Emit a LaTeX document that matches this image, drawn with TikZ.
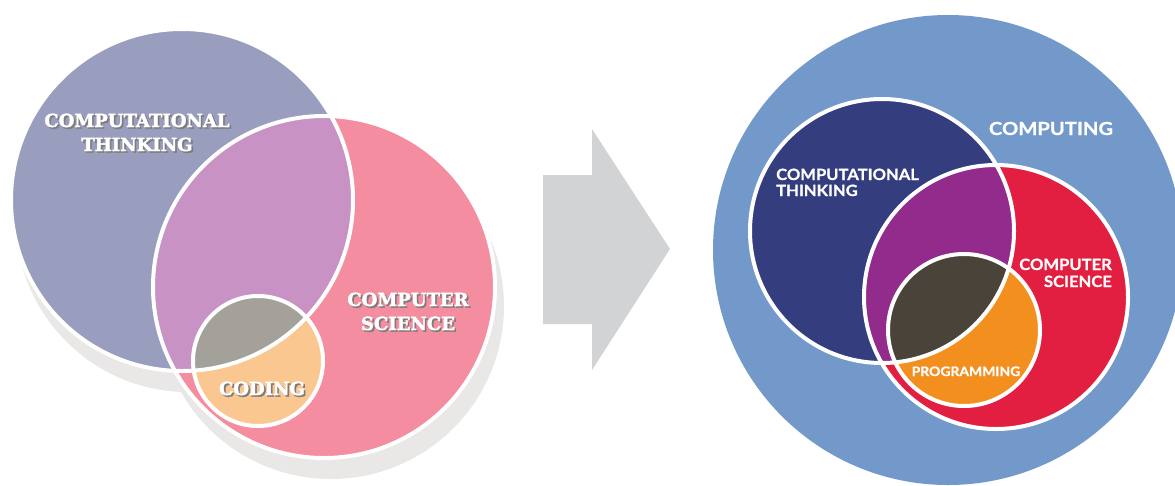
\documentclass[tikz,border=0pt]{standalone}
\usepackage{fontspec}
\newfontfamily\slabfont{DejaVu Serif Bold}[FakeBold=2.2]
\newfontfamily\latofont{Lato Bold}[FakeBold=0.8,FakeStretch=1.07]
\newfontfamily\latowide{Lato Bold}[FakeBold=0.8,FakeStretch=1.12]
\definecolor{ctL}{HTML}{999DBE}
\definecolor{csL}{HTML}{F38D9F}
\definecolor{ovL}{HTML}{C892C5}
\definecolor{codL}{HTML}{FBC790}
\definecolor{cgL}{HTML}{A4A09A}
\definecolor{shL}{HTML}{E9E8E6}
\definecolor{arrowgray}{HTML}{D1D3D4}
\definecolor{bigR}{HTML}{7399CB}
\definecolor{ctR}{HTML}{343D7E}
\definecolor{csR}{HTML}{E31F41}
\definecolor{ovR}{HTML}{922B8C}
\definecolor{prR}{HTML}{F38F1F}
\definecolor{dkR}{HTML}{4A433A}
\definecolor{txtsh}{HTML}{7E7C7A}
\begin{document}
\begin{tikzpicture}[x=1pt,y=-1pt,
  ring/.style={draw=white, line width=4pt},
  slab/.style={font=\slabfont\fontsize{18}{20}\selectfont, inner sep=0pt, text=white},
  slabsh/.style={slab, text=txtsh},
  sanslbl/.style={font=\latofont\fontsize{15.5}{17}\selectfont, inner sep=0pt, text=white}]
\useasboundingbox (0,0) rectangle (1175,485);
% ---------- left diagram ----------
\fill[shL] (188,220) circle (172);
\fill[shL] (331,306) circle (173);
\fill[ctL] (182,200) circle (171);
\fill[csL] (324,287) circle (171);
\begin{scope}
  \clip (182,200) circle (171);
  \fill[ovL] (324,287) circle (171);
\end{scope}
\fill[codL] (258,361) circle (65);
\begin{scope}
  \clip (182,200) circle (171);
  \fill[cgL] (258,361) circle (65);
\end{scope}
\draw[ring] (182,200) circle (171);
\draw[ring] (324,287) circle (171);
\draw[ring] (258,361) circle (65);
% labels
\node[slabsh, anchor=base] (ct1s) at (138.7,128.7) {COMPUTATIONAL};
\node[slab, anchor=base] (ct1) at (137,127) {COMPUTATIONAL};
\node[slabsh, anchor=base] (ct2s) at (138.7,152.7) {THINKING};
\node[slab, anchor=base] (ct2) at (137,151) {THINKING};
\node[slabsh, anchor=base] (cs1s) at (409.7,307.7) {COMPUTER};
\node[slab, anchor=base] (cs1) at (408,306) {COMPUTER};
\node[slabsh, anchor=base] (cs2s) at (409.7,331.7) {SCIENCE};
\node[slab, anchor=base] (cs2) at (408,330) {SCIENCE};
\node[slabsh, anchor=base] (cods) at (263.7,396.7) {CODING};
\node[slab, anchor=base] (cod) at (262,395) {CODING};
% ---------- arrow ----------
\fill[arrowgray] (543,175) -- (592,175) -- (592,129) -- (670,249) -- (592,370) -- (592,324) -- (543,324) -- cycle;
% ---------- right diagram ----------
\fill[bigR] (948,250) circle (235);
\fill[ctR] (882,231) circle (132);
\fill[csR] (996,297) circle (132);
\begin{scope}
  \clip (882,231) circle (132);
  \fill[ovR] (996,297) circle (132);
\end{scope}
\fill[prR] (964,330) circle (76);
\begin{scope}
  \clip (882,231) circle (132);
  \fill[dkR] (964,330) circle (76);
\end{scope}
\draw[ring] (882,231) circle (132);
\draw[ring] (996,297) circle (132);
\draw[ring] (964,330) circle (76);
\node[sanslbl, anchor=base, font=\latowide\fontsize{18}{20}\selectfont] (comp) at (1051,135) {COMPUTING};
\node[sanslbl, anchor=base west] (rct1) at (776,180) {COMPUTATIONAL};
\node[sanslbl, anchor=base west] (rct2) at (776,196) {THINKING};
\node[sanslbl, anchor=base east] (rcs1) at (1112,270) {COMPUTER};
\node[sanslbl, anchor=base east] (rcs2) at (1112,287) {SCIENCE};
\node[sanslbl, anchor=base, font=\latofont\fontsize{13}{15}\selectfont] (prog) at (966,376) {PROGRAMMING};
\end{tikzpicture}
\end{document}
